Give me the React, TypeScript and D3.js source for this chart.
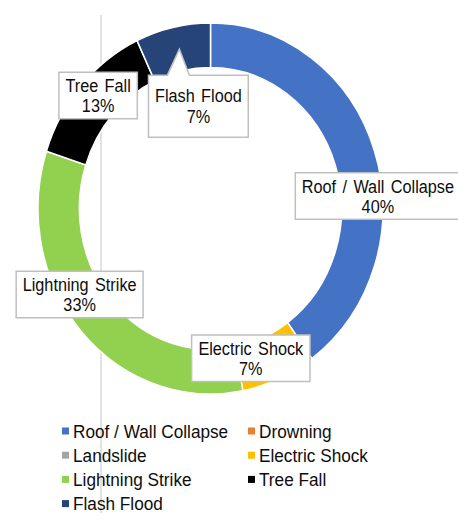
import React, { useEffect, useRef } from 'react'
import * as d3 from 'd3'

// causes of death, share in percent
const categories = ['Roof / Wall Collapse', 'Drowning', 'Landslide', 'Electric Shock', 'Lightning Strike', 'Tree Fall', 'Flash Flood']
const shares = [40, 0, 0, 7, 33, 13, 7]
const colors = ['#4472c4', '#ed7d31', '#a5a5a5', '#ffc000', '#92d050', '#000000', '#264478']

// label box nudges from the ring centroid (layout only)
const labelNudge: { [k: string]: [number, number] } = {
    'Roof / Wall Collapse': [23, 38],
    'Electric Shock': [-20, 0],
    'Lightning Strike': [-17, -22],
    'Tree Fall': [1.5, -5],
    'Flash Flood': [21, 57],
}

export default function App() {
    const ref = useRef<SVGSVGElement>(null)

    let width = 458, height = 523
    let cx = 210.5, cy = 208.5, outer = 185.5, inner = 141, sx = 0.93
    let font = '"Liberation Sans", Arial, sans-serif'

    function draw() {
        const svg = d3.select(ref.current)
        svg.selectAll('*').remove()

        // faint vertical line behind the chart
        svg.append('line')
            .attr('x1', 101).attr('x2', 101)
            .attr('y1', 15).attr('y2', 513)
            .attr('stroke', '#d9d9d9')
            .attr('stroke-width', 1.5)

        const pie = d3.pie<number>().sort(null).value(d => d).startAngle(0).endAngle(Math.PI * 2)
        const arcs = pie(shares)
        const arc = d3.arc<any>().innerRadius(inner).outerRadius(outer)
        const mid = d3.arc<any>().innerRadius((inner + outer) / 2).outerRadius((inner + outer) / 2)

        const ring = svg.append('g')
            .attr('transform', 'translate(' + cx + ',' + cy + ') scale(' + sx + ',1)')

        ring.selectAll('path')
            .data(arcs.filter(a => a.value > 0))
            .enter()
            .append('path')
            .attr('d', arc)
            .attr('fill', (d: any) => colors[d.index])
            .attr('stroke', '#fff')
            .attr('stroke-width', 1.5)
            .attr('vector-effect', 'non-scaling-stroke')

        const total = d3.sum(shares)
        const pct = d3.format('.0%')

        arcs.forEach((a, i) => {
            if (a.value <= 0) return
            const name = categories[i]
            const c = mid.centroid(a)
            const px = cx + c[0] * sx, py = cy + c[1]
            const nudge = labelNudge[name] || [0, 0]
            const bx = px + nudge[0], by = py + nudge[1]
            const isFlood = name === 'Flash Flood'

            const g = svg.append('g')
            const box = g.append('path')
            const t1 = g.append('text')
                .attr('transform', 'translate(' + bx + ',' + (by - (isFlood ? 4 : 3.5)) + ') scale(' + sx + ',1)')
                .attr('text-anchor', 'middle')
                .style('font-family', font)
                .style('font-size', '17.5px')
                .style('word-spacing', '2px')
                .attr('fill', '#0d0d0d')
                .text(name)
            g.append('text')
                .attr('transform', 'translate(' + bx + ',' + (by + (isFlood ? 17 : 16.5)) + ') scale(' + sx + ',1)')
                .attr('text-anchor', 'middle')
                .style('font-family', font)
                .style('font-size', '17.5px')
                .attr('fill', '#0d0d0d')
                .text(pct(a.value / total))

            const tw = (t1.node() as SVGTextElement).getBBox().width * sx
            const w = tw + 13
            const h = isFlood ? 62 : 46.5
            const x0 = bx - w / 2, y0 = by - h / 2, x1 = bx + w / 2, y1 = by + h / 2
            let d = ''
            if (isFlood) {
                // callout pointer up to the slice
                d = 'M' + x0 + ',' + y0 + 'L' + (px - 10) + ',' + y0 + 'L' + (px + 2) + ',' + py +
                    'L' + (px + 12) + ',' + y0 + 'L' + x1 + ',' + y0 + 'L' + x1 + ',' + y1 + 'L' + x0 + ',' + y1 + 'Z'
            } else {
                d = 'M' + x0 + ',' + y0 + 'L' + x1 + ',' + y0 + 'L' + x1 + ',' + y1 + 'L' + x0 + ',' + y1 + 'Z'
            }
            box.attr('d', d)
                .attr('fill', '#fff')
                .attr('stroke', '#bfbfbf')
                .attr('stroke-width', 1.5)
        })

        // legend, two columns
        const legend = svg.append('g')
        categories.forEach((name, i) => {
            const col = i % 2, row = Math.floor(i / 2)
            const lx = col === 0 ? 62 : 248
            const ly = 431 + row * 24.2
            legend.append('rect')
                .attr('x', lx).attr('y', ly - 3.5)
                .attr('width', 7).attr('height', 7)
                .attr('fill', colors[i])
            legend.append('text')
                .attr('transform', 'translate(' + (lx + 11) + ',' + (ly + 6.5) + ') scale(' + sx + ',1)')
                .style('font-family', font)
                .style('font-size', '18.5px')
                .attr('fill', '#0d0d0d')
                .text(name)
        })
    }

    useEffect(() => {
        draw()
    }, [])

    return (
        <svg ref={ref} width={width} height={height}
            style={{ position: 'absolute', left: 0, top: 0, background: '#fff' }} />
    )
}
